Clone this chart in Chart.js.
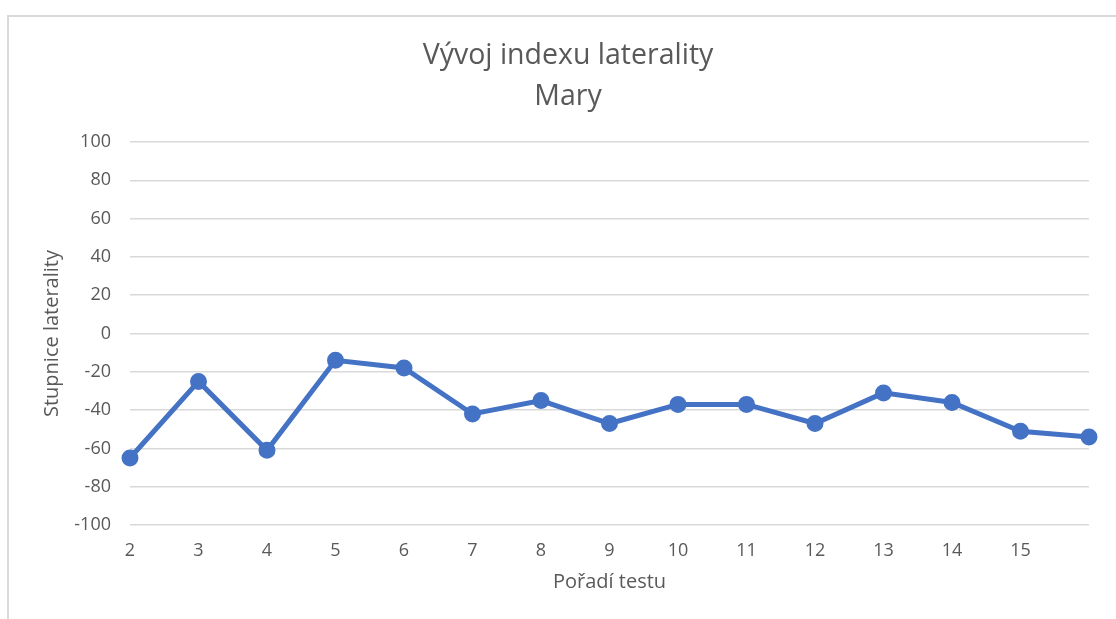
<!DOCTYPE html>
<html>
<head>
<meta charset="utf-8">
<script src="https://cdn.jsdelivr.net/npm/chart.js@4.4.1/dist/chart.umd.min.js"></script>
<style>
  html, body { margin: 0; padding: 0; background: #fff; overflow: hidden; }
  #wrap { position: relative; width: 1116px; height: 619px; }
  #frame { position: absolute; left: 7px; top: 15px; width: 1200px; height: 700px; border: 2px solid #d9d9d9; box-sizing: border-box; pointer-events: none; }
  canvas { position: absolute; left: 0; top: 0; }
</style>
</head>
<body>
<div id="wrap">
  <div id="frame"></div>
  <canvas id="c" width="1116" height="619"></canvas>
</div>
<script>
const categories = ['2','3','4','5','6','7','8','9','10','11','12','13','14','15',''];
const values = [-65, -25, -61, -14, -18, -42, -35, -47, -37, -37, -47, -31, -36, -51, -54];
const yTicks = [-100, -80, -60, -40, -20, 0, 20, 40, 60, 80, 100];
const titleLines = ['Vývoj indexu laterality', 'Mary'];
const xTitle = 'Pořadí testu';
const yTitle = 'Stupnice laterality';

const FONT = '"Open Sans", sans-serif';
const GREY = '#595959';

new Chart(document.getElementById('c'), {
  type: 'line',
  data: {
    labels: categories,
    datasets: [{
      data: values,
      borderColor: '#4472C4',
      backgroundColor: '#4472C4',
      borderWidth: 5,
      pointRadius: 6,
      pointHoverRadius: 6,
      pointBackgroundColor: '#4472C4',
      pointBorderColor: '#4472C4',
      tension: 0,
      fill: false
    }]
  },
  options: {
    responsive: false,
    animation: false,
    devicePixelRatio: 1,
    layout: { padding: { left: 47, right: 27, top: 0, bottom: 0 } },
    plugins: {
      legend: { display: false },
      tooltip: { enabled: false },
      title: {
        display: true,
        text: titleLines,
        color: GREY,
        font: { family: FONT, size: 28.5, weight: 'normal', lineHeight: 1.44 },
        padding: { top: 35, bottom: 25 }
      }
    },
    scales: {
      x: {
        type: 'category',
        offset: false,
        grid: { display: false, drawTicks: false },
        border: { display: false },
        ticks: {
          color: GREY,
          font: { family: FONT, size: 18 },
          padding: 15,
          maxRotation: 0,
          autoSkip: false
        },
        title: {
          display: true,
          text: xTitle,
          color: GREY,
          font: { family: FONT, size: 20 },
          padding: { top: 0, bottom: 25 }
        },
        afterFit: (s) => { s.height = 94; }
      },
      y: {
        min: -100,
        max: 100,
        afterBuildTicks: (s) => { s.ticks = yTicks.map(v => ({ value: v })); },
        grid: { color: '#d9d9d9', lineWidth: 1.5, drawTicks: false },
        border: { display: false },
        ticks: {
          color: GREY,
          font: { family: FONT, size: 18 },
          padding: 19
        },
        title: {
          display: true,
          text: yTitle,
          color: GREY,
          font: { family: FONT, size: 20, lineHeight: 0.5 },
          padding: { top: 0, bottom: 0 }
        },
        afterFit: (s) => { s.width = 83; }
      }
    }
  }
});
</script>
</body>
</html>
